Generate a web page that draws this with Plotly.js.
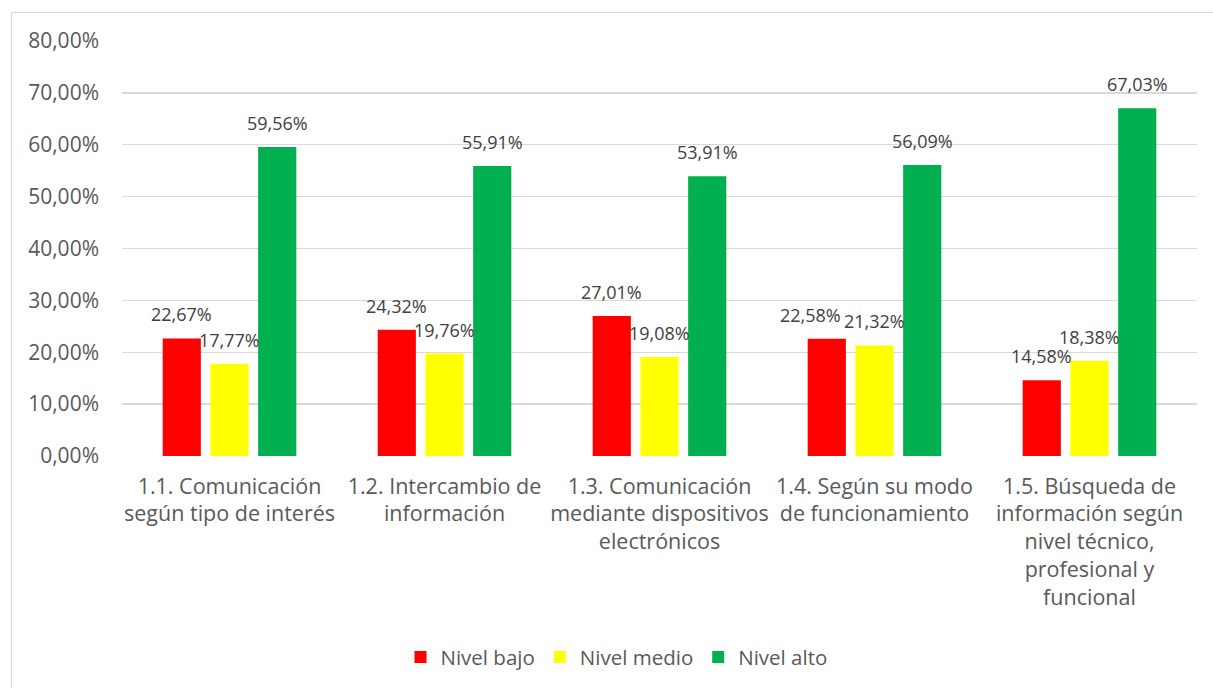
<!DOCTYPE html>
<html>
<head>
<meta charset="utf-8">
<script src="https://cdn.plot.ly/plotly-3.0.1.min.js"></script>
<style>
html,body{margin:0;padding:0;background:#fff;overflow:hidden;}
#chart{width:1213px;height:688px;position:absolute;left:0;top:0;}
#frame{position:absolute;left:11px;top:12px;width:1220px;height:700px;border:1px solid #d9d9d9;pointer-events:none;}
</style>
</head>
<body>
<div id="chart"></div>
<div id="frame"></div>
<script>
const categories = [
  "1.1. Comunicación<br>según tipo de interés",
  "1.2. Intercambio de<br>información",
  "1.3. Comunicación<br>mediante dispositivos<br>electrónicos",
  "1.4. Según su modo<br>de funcionamiento",
  "1.5. Búsqueda de<br>información según<br>nivel técnico,<br>profesional y<br>funcional"
];
const seriesNames = ["Nivel bajo", "Nivel medio", "Nivel alto"];
const nivelBajo = [22.67, 24.32, 27.01, 22.58, 14.58];
const nivelMedio = [17.77, 19.76, 19.08, 21.32, 18.38];
const nivelAlto = [59.56, 55.91, 53.91, 56.09, 67.03];
const yTicks = [0, 10, 20, 30, 40, 50, 60, 70, 80];

const seriesValues = [nivelBajo, nivelMedio, nivelAlto];
const colors = ["#FF0000", "#FFFF00", "#00B050"];
const font = "'Open Sans', 'Liberation Sans', sans-serif";
const fmt = v => v.toFixed(2).replace(".", ",") + "%";

const traces = seriesValues.map((vals, i) => ({
  type: "bar",
  name: seriesNames[i],
  x: categories,
  y: vals,
  marker: {color: colors[i]},
  hoverinfo: "skip"
}));

// label collision nudge: like Excel, move a label left when its neighbour
// label to the right sits at almost the same height
const pxPerUnit = 416 / 80;
const slot = 47.7;
const annotations = [];
seriesValues.forEach((vals, i) => {
  vals.forEach((v, j) => {
    let nudge = 0;
    if (i < seriesValues.length - 1) {
      const nb = seriesValues[i + 1][j];
      if (Math.abs(nb - v) * pxPerUnit < 12) nudge = -16;
    }
    annotations.push({
      x: categories[j], y: v, xref: "x", yref: "y",
      text: fmt(v),
      showarrow: false,
      xshift: (i - 1) * slot + nudge,
      yanchor: "middle",
      yshift: 24,
      borderpad: 0,
      font: {family: font, size: 18, color: "#404040"}
    });
  });
});

const layout = {
  width: 1213, height: 688,
  margin: {l: 122, r: 16, t: 41, b: 231},
  paper_bgcolor: "#ffffff",
  plot_bgcolor: "#ffffff",
  barmode: "group",
  bargap: 0.334,
  bargroupgap: 0.2,
  showlegend: true,
  legend: {
    orientation: "h", x: 0.46, xanchor: "center", y: -0.481, yanchor: "middle",
    font: {family: font, size: 20.5, color: "#595959"},
    itemclick: false
  },
  xaxis: {
    type: "category",
    tickfont: {family: font, size: 21.5, color: "#595959"},
    showgrid: false, zeroline: false, showline: false, ticks: "",
    ticklabelstandoff: 15,
    automargin: false
  },
  yaxis: {
    range: [0, 80],
    tickmode: "array",
    tickvals: yTicks,
    ticktext: yTicks.map(fmt),
    tickfont: {family: font, size: 21, color: "#595959"},
    showgrid: true, gridcolor: "#d9d9d9", gridwidth: 1.3,
    zeroline: false, showline: false, ticks: "",
    ticklabelstandoff: 22,
    automargin: false
  },
  annotations: annotations
};

Plotly.newPlot("chart", traces, layout, {displayModeBar: false, staticPlot: true});
</script>
</body>
</html>
